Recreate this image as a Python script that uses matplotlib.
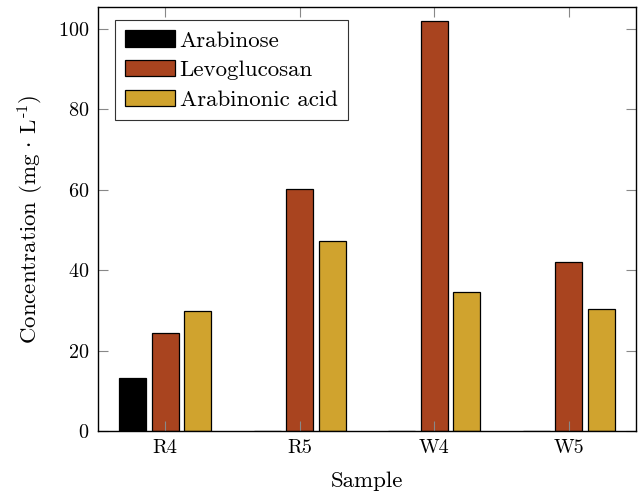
import matplotlib
matplotlib.use("Agg")
import matplotlib.pyplot as plt
import numpy as np

samples = ["R4", "R5", "W4", "W5"]
series_names = ["Arabinose", "Levoglucosan", "Arabinonic acid"]
arabinose = [13.3, 0, 0, 0]
levoglucosan = [24.5, 60.3, 102.0, 42.0]
arabinonic_acid = [29.8, 47.3, 34.5, 30.3]
colors = ["#000000", "#A9441F", "#D0A32E"]

plt.rcParams["font.family"] = ["cmr10", "DejaVu Serif"]
plt.rcParams["mathtext.fontset"] = "cm"
plt.rcParams["axes.formatter.use_mathtext"] = True

fig = plt.figure(figsize=(6.38, 4.91), dpi=100)
ax = fig.add_axes([0.1536, 0.1222, 0.8433, 0.8635])

x = np.arange(len(samples))
width = 0.2
offsets = [-0.243, 0.0, 0.243]
data = [arabinose, levoglucosan, arabinonic_acid]
for vals, off, c, name in zip(data, offsets, colors, series_names):
    ax.bar(x + off, vals, width, color=c, edgecolor="black", linewidth=0.9, label=name)

ax.set_xlim(-0.5, 3.5)
ax.set_ylim(0, 105.5)
ax.set_xticks(x)
ax.set_xticklabels(samples)
ax.set_yticks([0, 20, 40, 60, 80, 100])
ax.tick_params(direction="in", length=7, width=0.8, color="#888888",
               top=True, right=True, labelsize=14.5, pad=6)
for s in ax.spines.values():
    s.set_linewidth(1.0)
ax.set_xlabel("Sample", labelpad=10, fontsize=16.5)
ax.set_ylabel(r"Concentration (mg$\,\cdot\,$L$^{\text{-1}}$)", labelpad=9, fontsize=16.5)

leg = ax.legend(loc="upper left", bbox_to_anchor=(0.0316, 0.969), borderaxespad=0,
                fancybox=False, edgecolor="#333333", framealpha=1,
                handlelength=2.15, handleheight=0.7, labelspacing=0.42,
                handletextpad=0.22, borderpad=0.45, fontsize=16.5)
leg.get_frame().set_linewidth(0.8)

fig.savefig("out.png", dpi=100)
